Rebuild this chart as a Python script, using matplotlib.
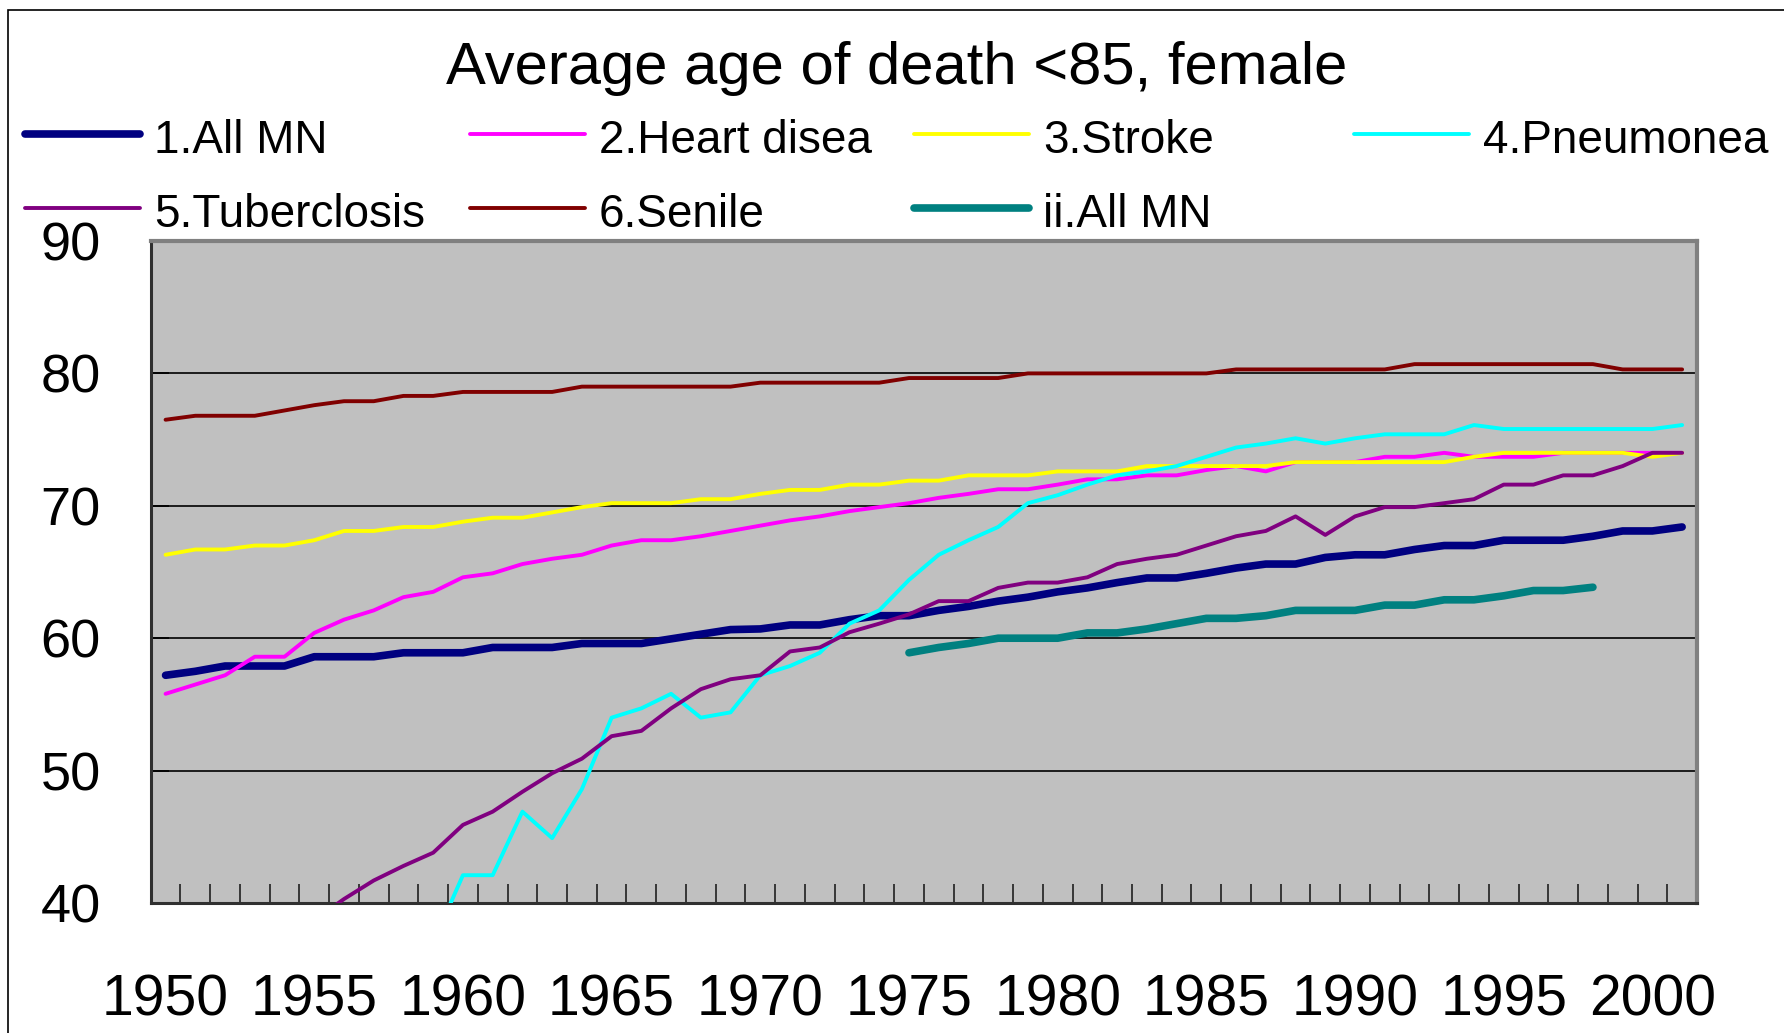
import numpy as np
import matplotlib.pyplot as plt
from matplotlib.lines import Line2D
from matplotlib.patches import Rectangle

plt.rcParams['font.family'] = ['Liberation Sans', 'DejaVu Sans']

nan = np.nan
years = np.arange(1950, 2002)

all_mn = [57.2, 57.5, 57.9, 57.9, 57.9, 58.6, 58.6, 58.6, 58.9, 58.9,
          58.9, 59.3, 59.3, 59.3, 59.6, 59.6, 59.6, 59.95, 60.3, 60.65,
          60.7, 61.0, 61.0, 61.4, 61.7, 61.7, 62.1, 62.4, 62.8, 63.1,
          63.5, 63.8, 64.2, 64.55, 64.55, 64.9, 65.3, 65.6, 65.6, 66.1,
          66.3, 66.3, 66.7, 67.0, 67.0, 67.4, 67.4, 67.4, 67.7, 68.1,
          68.1, 68.4]
heart = [55.8, 56.5, 57.2, 58.6, 58.6, 60.4, 61.4, 62.1, 63.1, 63.5,
         64.6, 64.9, 65.6, 66.0, 66.3, 67.0, 67.4, 67.4, 67.7, 68.1,
         68.5, 68.9, 69.2, 69.6, 69.9, 70.2, 70.6, 70.9, 71.25, 71.25,
         71.6, 72.0, 72.0, 72.3, 72.3, 72.7, 73.0, 72.6, 73.3, 73.3,
         73.3, 73.7, 73.7, 74.0, 73.7, 73.7, 73.7, 74.0, 74.0, 74.0,
         74.0, 74.0]
stroke = [66.3, 66.7, 66.7, 67.0, 67.0, 67.4, 68.1, 68.1, 68.4, 68.4,
          68.8, 69.1, 69.1, 69.5, 69.9, 70.2, 70.2, 70.2, 70.5, 70.5,
          70.9, 71.2, 71.2, 71.6, 71.6, 71.9, 71.9, 72.3, 72.3, 72.3,
          72.6, 72.6, 72.6, 73.0, 73.0, 73.0, 73.0, 73.0, 73.3, 73.3,
          73.3, 73.3, 73.3, 73.3, 73.7, 74.0, 74.0, 74.0, 74.0, 74.0,
          73.7, 74.0]
pneumonia = [nan, nan, nan, nan, nan, nan, nan, nan, nan, 37.0,
             42.1, 42.1, 46.9, 44.9, 48.6, 54.0, 54.7, 55.8, 54.0, 54.4,
             57.2, 57.9, 58.9, 61.1, 62.1, 64.4, 66.3, 67.4, 68.4, 70.2,
             70.8, 71.6, 72.3, 72.6, 73.0, 73.7, 74.4, 74.7, 75.1, 74.7,
             75.1, 75.4, 75.4, 75.4, 76.1, 75.8, 75.8, 75.8, 75.8, 75.8,
             75.8, 76.1]
tuberc = [nan, nan, nan, nan, nan, 38.7, 40.3, 41.7, 42.8, 43.8,
          45.9, 46.9, 48.4, 49.8, 50.9, 52.6, 53.0, 54.7, 56.15, 56.9,
          57.2, 59.0, 59.3, 60.45, 61.1, 61.8, 62.8, 62.8, 63.8, 64.2,
          64.2, 64.6, 65.6, 66.0, 66.3, 67.0, 67.7, 68.1, 69.2, 67.8,
          69.2, 69.9, 69.9, 70.2, 70.5, 71.6, 71.6, 72.3, 72.3, 73.0,
          74.0, 74.0]
senile = [76.5, 76.8, 76.8, 76.8, 77.2, 77.6, 77.9, 77.9, 78.3, 78.3,
          78.6, 78.6, 78.6, 78.6, 79.0, 79.0, 79.0, 79.0, 79.0, 79.0,
          79.3, 79.3, 79.3, 79.3, 79.3, 79.65, 79.65, 79.65, 79.65, 80.0,
          80.0, 80.0, 80.0, 80.0, 80.0, 80.0, 80.3, 80.3, 80.3, 80.3,
          80.3, 80.3, 80.7, 80.7, 80.7, 80.7, 80.7, 80.7, 80.7, 80.3,
          80.3, 80.3]
ii_all_mn = [nan] * 25 + [58.9, 59.3, 59.6, 60.0, 60.0,
                          60.0, 60.4, 60.4, 60.7, 61.1, 61.5, 61.5, 61.7, 62.1, 62.1,
                          62.1, 62.5, 62.5, 62.9, 62.9, 63.2, 63.6, 63.6, 63.85,
                          nan, nan, nan]

names = ['1.All MN', '2.Heart disea', '3.Stroke', '4.Pneumonea',
         '5.Tuberclosis', '6.Senile', 'ii.All MN']
series = [all_mn, heart, stroke, pneumonia, tuberc, senile, ii_all_mn]
colors = ['#000080', '#FF00FF', '#FFFF00', '#00FFFF', '#800080', '#800000', '#008080']
widths = [5.5, 2.8, 2.8, 2.8, 2.8, 2.8, 5.5]

W, H = 1784, 1033
fig = plt.figure(figsize=(W / 100, H / 100), dpi=100)
fig.patch.set_facecolor('white')

# outer chart frame (right / bottom edges fall outside the picture)
fig.add_artist(Rectangle((8 / W, -0.1), 1.2, 1.1 - 10 / H, transform=fig.transFigure,
                         fill=False, edgecolor='black', linewidth=1.2))

ax = fig.add_axes([150.7 / W, (H - 903) / H, (1697 - 150.7) / W, (903 - 241) / H])
ax.set_facecolor('#C0C0C0')

for vals, c, lw in zip(series, colors, widths):
    ax.plot(years, vals, color=c, linewidth=lw, solid_capstyle='round',
            solid_joinstyle='round', zorder=3)

ax.set_xlim(1949.5, 2001.5)
ax.set_ylim(40, 90)
ax.set_yticks(np.arange(40, 91, 10))
ax.yaxis.grid(True, color='black', linewidth=1.2)
ax.set_axisbelow(True)

ax.set_xticks(np.arange(1950, 2001, 5))
ax.set_xticks(np.arange(1949.5, 2002, 1), minor=True)
ax.tick_params(axis='x', which='major', length=0, pad=51, labelsize=41)
ax.tick_params(axis='x', which='minor', direction='in', length=14, width=1.2, color='#202020')
ax.tick_params(axis='y', direction='in', length=13, width=1.2, pad=36, labelsize=39)

for s in ['left', 'bottom']:
    ax.spines[s].set_color('#303030')
    ax.spines[s].set_linewidth(2.2)
for s in ['top', 'right']:
    ax.spines[s].set_color('#808080')
    ax.spines[s].set_linewidth(3)

fig.text(897 / W, 1 - 84 / H, 'Average age of death <85, female', ha='center',
         va='baseline', fontsize=43)

# legend laid out like the original (fixed columns)
col_x = [25, 470, 914, 1354]
row_line_y = [134, 208]
row_text_y = [153, 227]
for k, (name, c, lw) in enumerate(zip(names, colors, widths)):
    r, cidx = divmod(k, 4)
    x0 = col_x[cidx]
    yl = 1 - row_line_y[r] / H
    fig.add_artist(Line2D([x0 / W, (x0 + 115) / W], [yl, yl], color=c, linewidth=lw,
                          solid_capstyle='round', transform=fig.transFigure))
    fig.text((x0 + 129) / W, 1 - row_text_y[r] / H, name, ha='left', va='baseline',
             fontsize=33)

fig.savefig('out.png', dpi=100)
